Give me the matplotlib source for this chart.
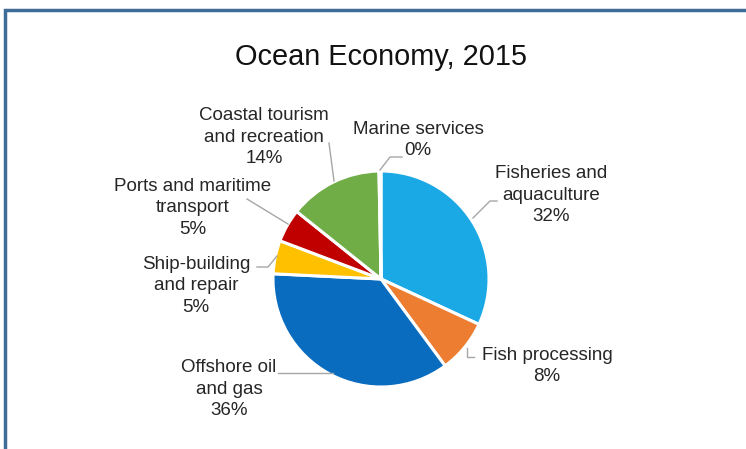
import numpy as np
import matplotlib.pyplot as plt

plt.rcParams['font.family'] = ['Liberation Sans', 'DejaVu Sans']

# sectors, clockwise from 12 o'clock
sectors = ["Fisheries and\naquaculture", "Fish processing", "Offshore oil\nand gas",
           "Ship-building\nand repair", "Ports and maritime\ntransport",
           "Coastal tourism\nand recreation", "Marine services"]
shares = [32, 8, 36, 5, 5, 14, 0.3]
pct_labels = ["32%", "8%", "36%", "5%", "5%", "14%", "0%"]
colors = ["#1BA9E6", "#ED7D31", "#0A6CBE", "#FFC000", "#C00000", "#70AD47", "#A5A5A5"]

# label text centres (pixel coords, y from top)
label_pos = [(551, 195), (547, 366), (229, 389), (196, 286), (193, 208), (264, 137), (418, 140)]
# leader line points (pixel coords, y from top)
leaders = [
    [(473, 218), (490, 201), (497, 201)],
    [(467, 348), (467, 357), (474, 357)],
    [(333, 373), (278, 373)],
    [(277, 256), (268, 267), (257, 267)],
    [(288, 224), (247, 199)],
    [(334, 181), (329, 143)],
    [(380, 170), (390, 157), (402, 157)],
]

W, H = 746, 449
fig = plt.figure(figsize=(W / 100, H / 100), dpi=100)
ax = fig.add_axes([0, 0, 1, 1])

cx, cy, r = 381, H - 279, 108
ax.pie(shares, colors=colors, startangle=90, counterclock=False,
       center=(cx, cy), radius=r, frame=True,
       wedgeprops=dict(edgecolor="white", linewidth=2.2))
ax.set_xlim(0, W)
ax.set_ylim(0, H)
ax.set_aspect("equal")
ax.axis("off")

for name, pct, (lx, ly), pts in zip(sectors, pct_labels, label_pos, leaders):
    xs = [p[0] for p in pts]
    ys = [H - p[1] for p in pts]
    ax.plot(xs, ys, color="#A6A6A6", lw=1)
    ax.text(lx, H - ly, name + "\n" + pct, ha="center", va="center",
            fontsize=13.5, color="#262626", linespacing=1.36)

ax.text(381, H - 57, "Ocean Economy, 2015", ha="center", va="center",
        fontsize=20.8, color="#111111")

# frame of the original screenshot
ax.plot([5, 5, W], [0, H - 10, H - 10], color="#3D6C99", lw=2.5,
        solid_joinstyle="miter")

fig.savefig("out.png", dpi=100)
